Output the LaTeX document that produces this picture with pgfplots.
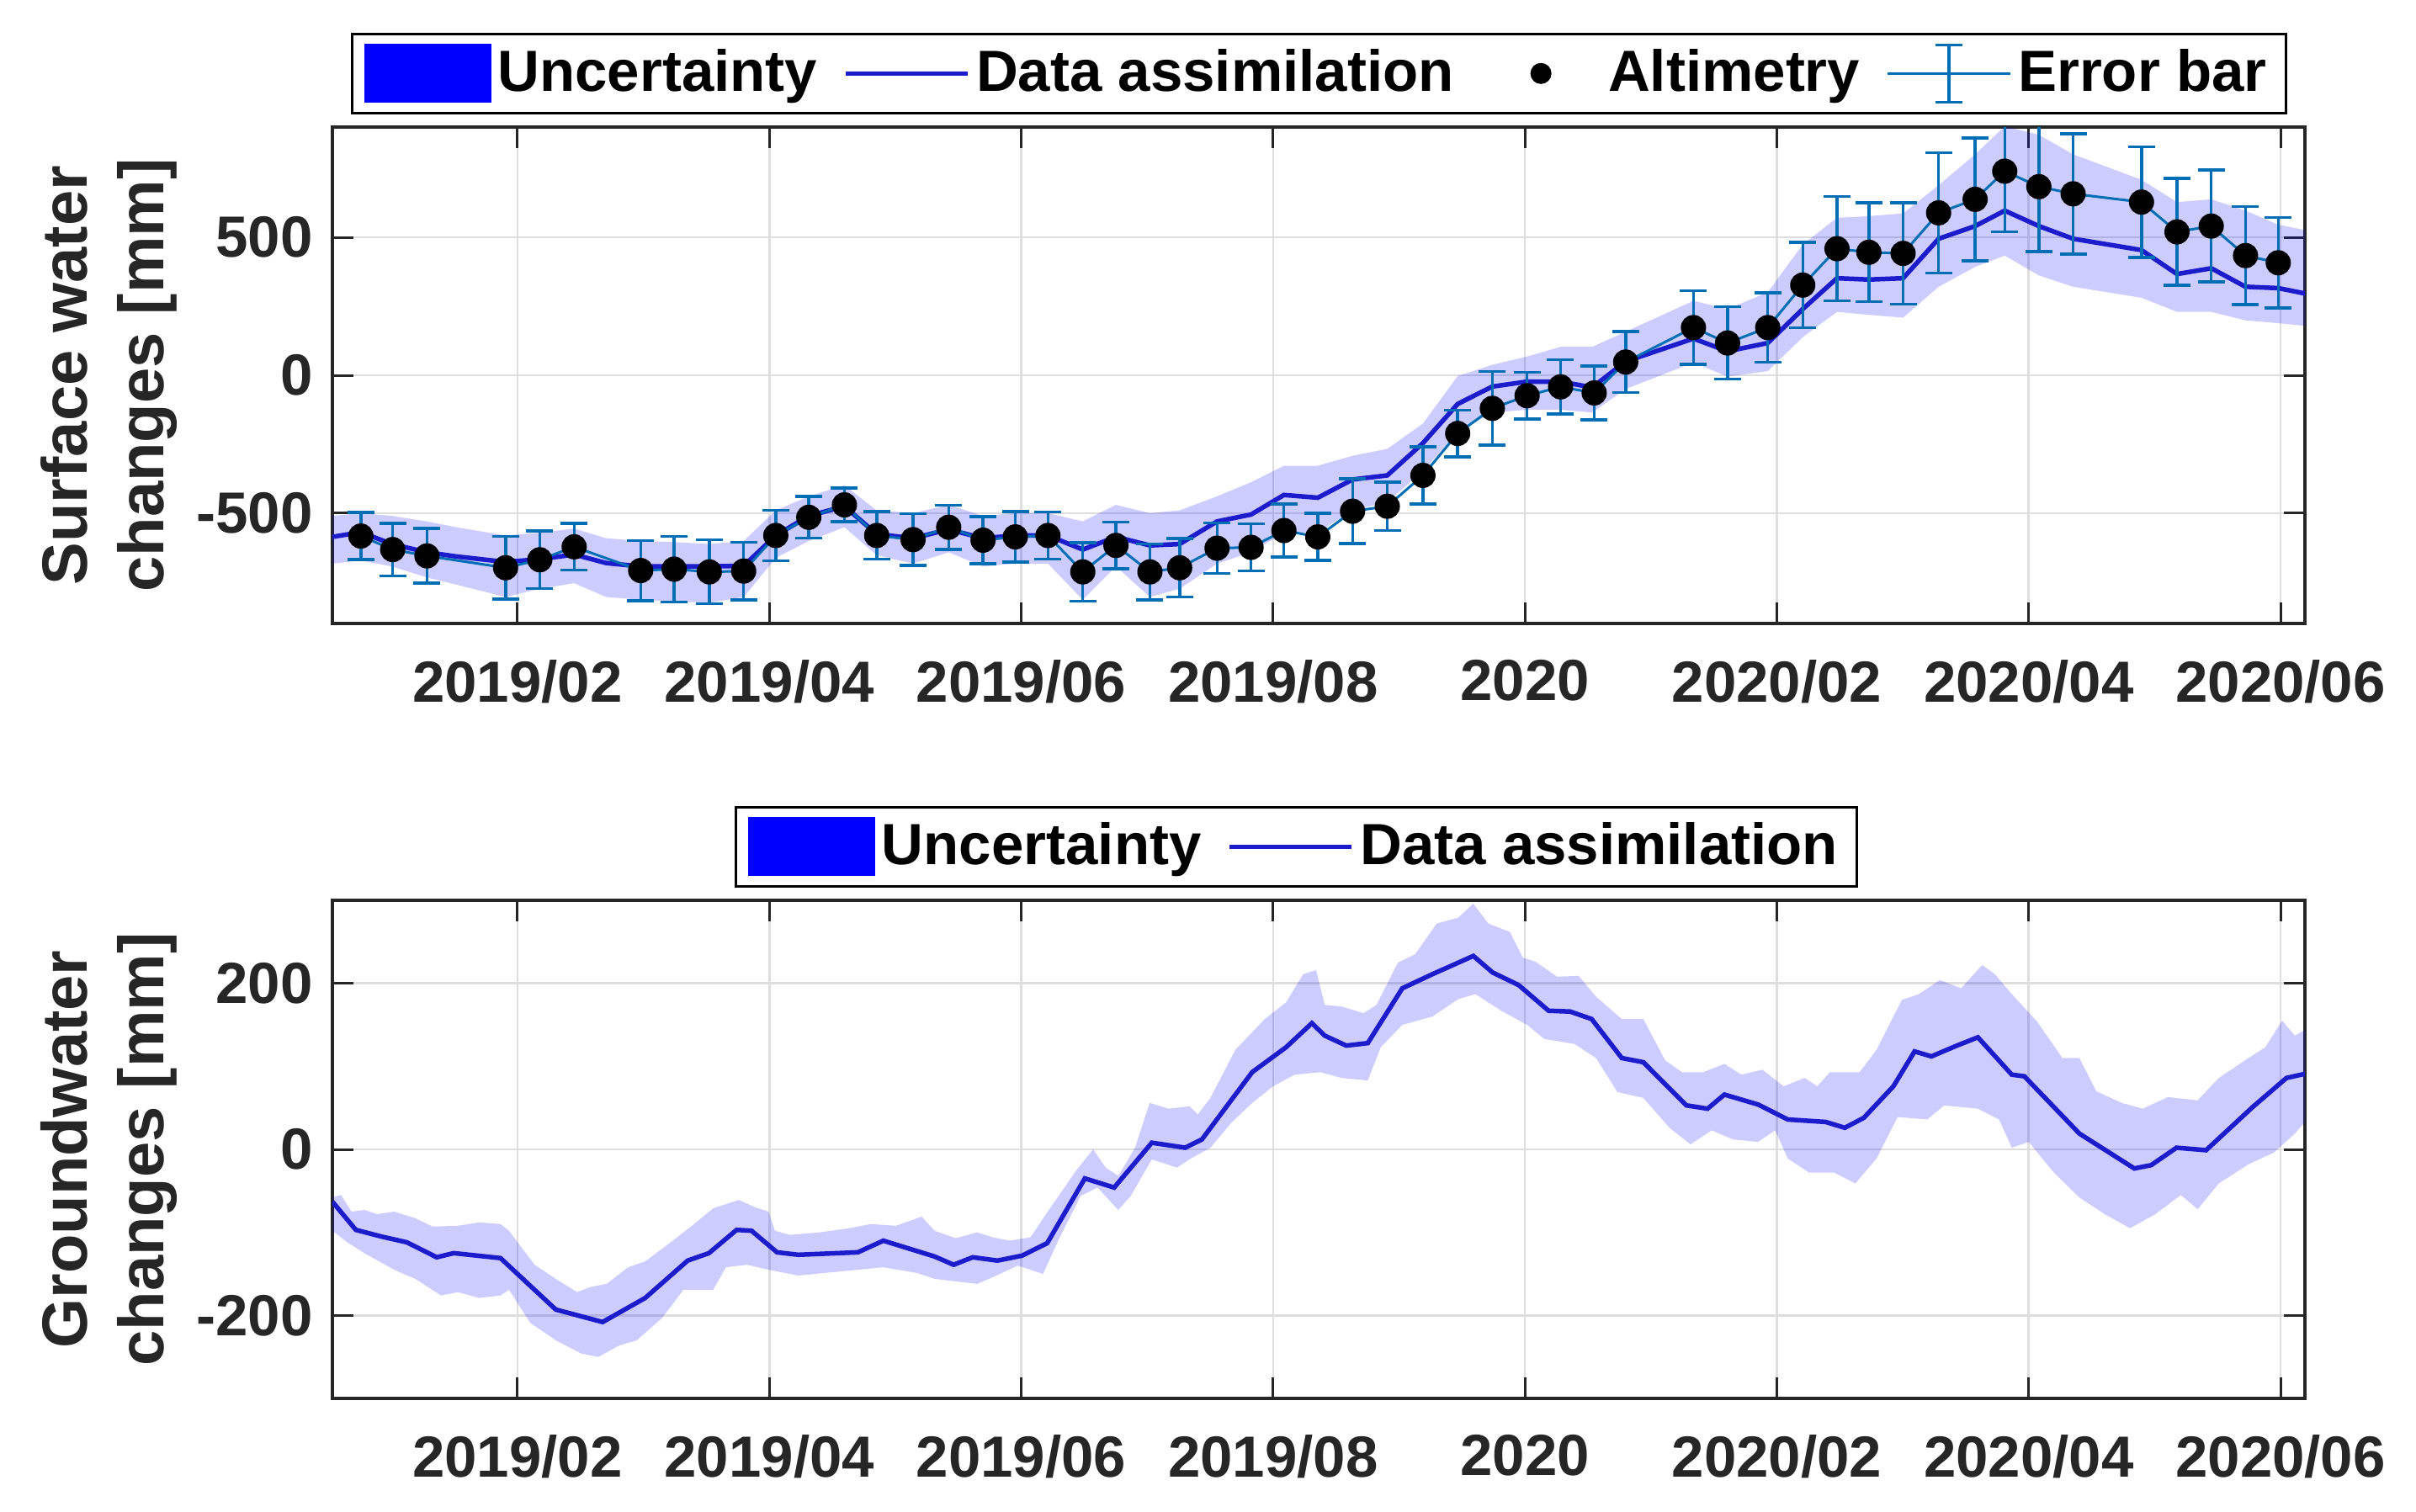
\documentclass[border=0pt]{standalone}
\usepackage{fontspec}
\setmainfont{Liberation Sans}
\usepackage{pgfplots}
\pgfplotsset{compat=1.18}
\usepackage{pgfplotstable}
\usepgfplotslibrary{fillbetween}

\definecolor{dacol}{RGB}{28,28,205}
\definecolor{errcol}{RGB}{0,110,180}
\definecolor{gridcol}{RGB}{222,222,222}
\definecolor{axcol}{RGB}{38,38,38}
\definecolor{bandcol}{RGB}{0,0,255}

\newcommand{\tickfont}{\fontsize{13.8bp}{16.5bp}\selectfont\bfseries}
\newcommand{\labfont}{\fontsize{15.2bp}{18.2bp}\selectfont\bfseries}

% ---------- top panel: data assimilation with uncertainty band ----------
\pgfplotstableread{
m da lo hi
0.53 -586 -683 -510
0.756 -569 -672 -500
1.002 -612 -693 -510
1.281 -642 -733 -530
1.513 -657 -759 -551
1.905 -677 -804 -581
2.177 -667 -774 -571
2.450 -650 -754 -556
2.705 -681 -804 -591
2.978 -693 -814 -601
3.244 -693 -820 -605
3.523 -693 -825 -612
3.796 -691 -804 -601
4.051 -581 -662 -490
4.313 -510 -601 -439
4.596 -475 -551 -399
4.852 -576 -652 -490
5.141 -591 -683 -500
5.424 -559 -642 -470
5.697 -591 -693 -510
5.953 -581 -683 -500
6.212 -581 -683 -500
6.489 -632 -814 -530
6.752 -586 -693 -470
7.022 -617 -804 -500
7.258 -612 -774 -490
7.555 -530 -683 -439
7.825 -505 -642 -388
8.086 -434 -571 -328
8.355 -444 -571 -328
8.631 -378 -490 -292
8.907 -363 -459 -267
9.190 -246 -348 -175
9.466 -104 -206 -3
9.741 -41 -135 38
10.017 -23 -125 68
10.283 -23 -125 103
10.534 -44 -135 103
10.80 50 -50 158
11.338 133 46 270
11.609 87 -5 240
11.928 117 15 301
12.206 240 138 474
12.478 352 230 571
12.731 347 219 577
13.003 352 209 587
13.285 495 321 689
13.575 541 393 801
13.810 597 434 903
14.081 541 362 872
14.353 495 321 801
14.896 454 281 709
15.178 367 230 628
15.450 388 230 638
15.722 321 199 597
15.982 316 189 546
16.20 296 179 526
}\topda

% ---------- top panel: altimetry with error bars ----------
\pgfplotstableread{
m v e
0.756 -583 85
1.009 -632 95
1.281 -655 99
1.905 -698 114
2.177 -669 104
2.450 -622 85
2.978 -708 109
3.244 -703 119
3.523 -713 116
3.796 -710 104
4.051 -581 92
4.313 -515 75
4.596 -470 61
4.852 -581 86
5.141 -596 94
5.424 -551 80
5.697 -598 85
5.953 -586 91
6.212 -581 85
6.489 -713 106
6.752 -617 84
7.022 -713 101
7.258 -698 106
7.555 -627 91
7.825 -624 85
8.086 -563 96
8.355 -586 85
8.631 -493 117
8.907 -475 88
9.190 -363 104
9.466 -211 85
9.741 -120 133
10.017 -74 84
10.283 -42 98
10.55 -64 97
10.80 48 110
11.338 173 133
11.609 117 131
11.928 173 126
12.206 327 155
12.478 459 189
12.731 446 179
13.003 442 184
13.285 589 218
13.575 638 223
13.810 740 220
14.081 684 235
14.353 658 218
14.896 628 201
15.178 520 194
15.450 541 203
15.722 434 178
15.982 408 164
}\topalt

% ---------- bottom panel: data assimilation ----------
\pgfplotstableread{
m v
0.53 -63
0.716 -97
0.919 -105
1.122 -112
1.358 -130
1.493 -125
1.865 -131
2.304 -193
2.676 -208
3.014 -179
3.351 -134
3.520 -125
3.740 -97
3.858 -98
4.061 -124
4.230 -127
4.703 -124
4.905 -110
5.311 -129
5.463 -139
5.615 -130
5.811 -134
6.007 -128
6.206 -113
6.505 -35
6.738 -46
7.037 8
7.302 2
7.435 12
7.834 93
8.103 123
8.308 152
8.410 137
8.581 125
8.752 128
9.026 194
9.265 211
9.590 233
9.744 213
9.949 198
10.188 167
10.359 166
10.530 157
10.769 110
10.940 105
11.282 53
11.450 49
11.584 66
11.852 54
12.087 36
12.389 33
12.540 26
12.691 38
12.926 76
13.094 118
13.228 112
13.430 125
13.597 135
13.866 90
13.966 88
14.403 19
14.839 -23
14.973 -19
15.174 2
15.409 -1
15.779 51
16.047 86
16.194 91
}\botda

% ---------- bottom panel: upper edge of uncertainty ----------
\pgfplotstableread{
m v
0.53 -58
0.598 -55
0.682 -75
0.784 -73
0.885 -78
1.020 -75
1.189 -83
1.324 -93
1.527 -92
1.696 -88
1.865 -90
1.932 -98
2.135 -139
2.304 -156
2.473 -172
2.574 -166
2.709 -162
2.878 -142
3.014 -135
3.216 -112
3.385 -92
3.554 -71
3.757 -61
3.892 -70
3.993 -75
4.044 -98
4.162 -103
4.399 -100
4.635 -95
4.804 -90
5.007 -92
5.209 -81
5.311 -98
5.480 -107
5.649 -100
5.774 -106
5.907 -110
6.073 -106
6.206 -76
6.439 -25
6.571 0
6.671 -22
6.771 -32
6.904 2
7.020 56
7.169 49
7.336 52
7.402 42
7.502 62
7.701 120
7.934 157
8.103 177
8.239 211
8.342 216
8.410 174
8.547 172
8.718 164
8.821 174
8.991 225
9.128 235
9.299 272
9.470 279
9.590 296
9.709 272
9.880 262
9.983 231
10.085 226
10.256 208
10.427 209
10.564 184
10.769 157
10.940 157
11.114 107
11.248 93
11.416 93
11.584 103
11.718 90
11.886 96
12.054 76
12.221 86
12.322 76
12.423 93
12.658 93
12.792 120
12.993 180
13.128 187
13.295 204
13.463 194
13.631 222
13.732 211
13.866 187
14.067 154
14.268 110
14.403 110
14.537 70
14.738 56
14.906 49
15.107 63
15.342 59
15.510 86
15.745 110
15.879 123
16.013 155
16.114 137
16.194 144
}\botup

% ---------- bottom panel: lower edge of uncertainty ----------
\pgfplotstableread{
m v
0.53 -98
0.649 -112
0.784 -125
1.020 -145
1.189 -156
1.392 -176
1.527 -172
1.696 -179
1.865 -176
1.932 -169
2.101 -209
2.304 -230
2.507 -246
2.642 -250
2.811 -236
2.946 -230
3.149 -203
3.318 -169
3.554 -169
3.655 -142
3.824 -139
3.993 -145
4.230 -152
4.568 -147
4.905 -142
5.176 -149
5.311 -156
5.480 -159
5.649 -162
5.774 -154
5.973 -140
6.173 -150
6.306 -106
6.472 -56
6.605 -46
6.771 -73
6.870 -56
7.037 -12
7.236 -22
7.336 -12
7.502 2
7.668 32
7.834 56
8.000 76
8.171 90
8.376 93
8.547 86
8.752 83
8.855 123
9.026 150
9.265 160
9.470 181
9.607 187
9.812 167
10.017 150
10.154 133
10.393 127
10.564 110
10.735 69
10.940 62
11.148 26
11.315 6
11.483 23
11.651 12
11.852 9
11.987 23
12.087 -11
12.255 -28
12.456 -28
12.624 -41
12.792 -11
12.960 39
13.195 36
13.329 53
13.597 49
13.765 36
13.866 2
14.000 9
14.201 -28
14.403 -58
14.604 -78
14.805 -95
15.007 -78
15.208 -55
15.342 -72
15.510 -41
15.745 -18
15.946 -4
16.114 19
16.194 33
}\botlo

\pgfplotsset{
  panel/.style={
    scale only axis, width=468.8bp,
    xmin=0.53, xmax=16.194,
    xtick={2,4,6,8,10,12,14,16},
    xticklabels={2019/02,2019/04,2019/06,2019/08,2020,2020/02,2020/04,2020/06},
    grid=major,
    major grid style={line width=0.5bp, draw=gridcol},
    tick align=inside,
    major tick length=5bp,
    tick style={line width=0.6bp, draw=axcol},
    axis line style={line width=0.7bp, draw=axcol},
    ticklabel style={font=\tickfont, text=axcol},
    xticklabel style={yshift=-5.2bp},
    yticklabel style={xshift=-1.2bp},
    every axis y label/.style={font=\labfont, align=center,
      at={(axis description cs:-0.0781,0.5)}, anchor=south, rotate=90,
      inner sep=0pt, text=axcol},
    legend style={font=\tickfont, draw=black, line width=0.6bp,
      inner xsep=3bp, inner ysep=2.2bp, anchor=south, at={(0.5,1)},
      yshift=3bp, nodes={inner sep=1.5bp},
      /tikz/every even column/.append style={column sep=4.7bp}},
    legend cell align=left,
  },
  patchimg/.style={legend image code/.code={%
    \path[draw=none,fill=none] (0bp,-7bp) rectangle (30.2bp,7bp);
    \path[draw=none,fill=bandcol] (0bp,-7bp) rectangle (30.2bp,7bp);}},
  daimg/.style={legend image code/.code={%
    \path[draw=none,fill=none] (0bp,-7bp) rectangle (29bp,7bp);
    \draw[dacol, line width=1.1bp] (0bp,0bp) -- (29bp,0bp);}},
  altimg/.style={legend image code/.code={%
    \path[draw=none,fill=none] (0bp,-7bp) rectangle (29bp,7bp);
    \path[draw=none,fill=black] (14.5bp,0bp) circle[radius=2.5bp];}},
  errimg/.style={legend image code/.code={%
    \path[draw=none,fill=none] (0bp,-7bp) rectangle (29.2bp,7bp);
    \draw[errcol, line width=0.7bp] (0bp,0bp) -- (29.2bp,0bp);
    \draw[errcol, line width=0.7bp] (14.6bp,-6.8bp) -- (14.6bp,6.8bp);
    \draw[errcol, line width=0.7bp] (11.4bp,-6.8bp) -- (17.8bp,-6.8bp);
    \draw[errcol, line width=0.7bp] (11.4bp,6.8bp) -- (17.8bp,6.8bp);}},
}

\begin{document}
\begin{tikzpicture}
\path (0bp,0bp) rectangle (574.2bp,359.4bp);

% ================= top panel =================
\begin{axis}[panel, at={(79bp,211.2bp)}, anchor=south west, height=118bp,
  ymin=-900, ymax=900, ytick={-500,0,500}, yticklabels={-500,0,500},
  ylabel={Surface water\\changes [mm]}, legend columns=4]
\addplot[draw=none, name path=tu, forget plot] table[x=m,y=hi]{\topda};
\addplot[draw=none, name path=tl, forget plot] table[x=m,y=lo]{\topda};
\addplot[fill=bandcol, fill opacity=0.2, draw=none, forget plot] fill between[of=tu and tl];
\addplot[dacol, line width=1.1bp, forget plot] table[x=m,y=da]{\topda};
\addplot[only marks, mark=*, mark size=2.8bp, black, forget plot] table[x=m,y=v]{\topalt};
\addplot[errcol, line width=0.6bp, mark=*, mark size=0bp, forget plot,
  error bars/.cd, y dir=both, y explicit, error mark=|,
  error bar style={line width=0.7bp, draw=errcol},
  error mark options={draw=errcol, line width=0.7bp, mark size=3.2bp}]
  table[x=m, y=v, y error=e]{\topalt};
\addlegendimage{patchimg}
\addlegendentry{Uncertainty}
\addlegendimage{daimg}
\addlegendentry{Data assimilation}
\addlegendimage{altimg}
\addlegendentry{Altimetry}
\addlegendimage{errimg}
\addlegendentry{Error bar}
\end{axis}

% ================= bottom panel =================
\begin{axis}[panel, at={(79bp,27bp)}, anchor=south west, height=118.4bp,
  ymin=-300, ymax=300, ytick={-200,0,200}, yticklabels={-200,0,200},
  ylabel={Groundwater\\changes [mm]}, legend columns=2,
  legend style={xshift=-5.3bp}]
\addplot[draw=none, name path=bu, forget plot] table[x=m,y=v]{\botup};
\addplot[draw=none, name path=bl, forget plot] table[x=m,y=v]{\botlo};
\addplot[fill=bandcol, fill opacity=0.2, draw=none, forget plot] fill between[of=bu and bl];
\addplot[dacol, line width=1.1bp, forget plot] table[x=m,y=v]{\botda};
\addlegendimage{patchimg}
\addlegendentry{Uncertainty}
\addlegendimage{daimg}
\addlegendentry{Data assimilation}
\end{axis}
\end{tikzpicture}
\end{document}
